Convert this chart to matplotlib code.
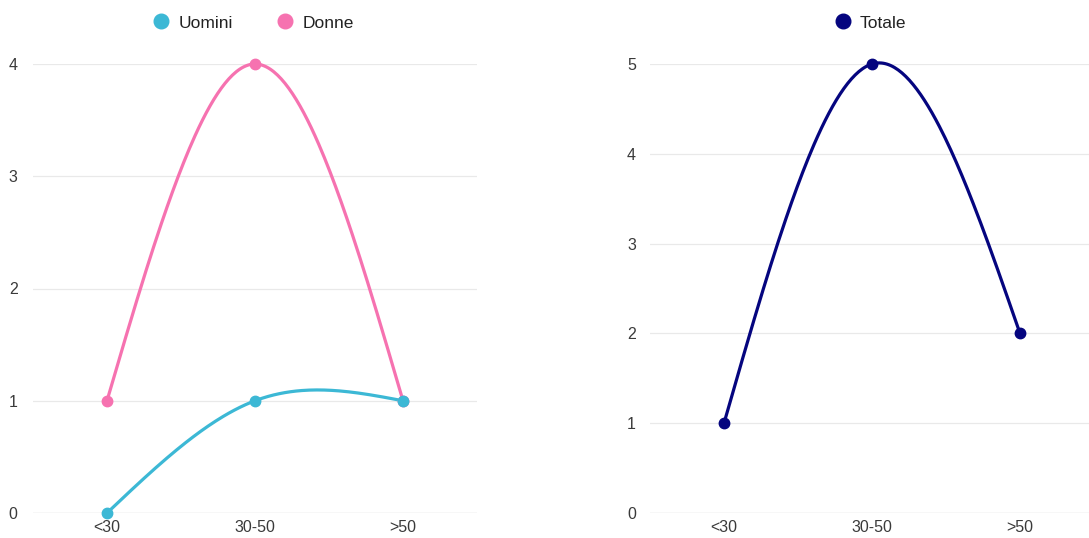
import numpy as np
import matplotlib
matplotlib.use("Agg")
import matplotlib.pyplot as plt
from matplotlib.lines import Line2D

categories = ["<30", "30-50", ">50"]
uomini = [0, 1, 1]
donne = [1, 4, 1]
totale = [1, 5, 2]

c_uomini = "#3cb8d5"
c_donne = "#f672b0"
c_totale = "#05057f"
c_text = "#3a3a3a"

plt.rcParams["font.family"] = ["Liberation Sans", "DejaVu Sans"]

W, H = 1089, 538
fig = plt.figure(figsize=(W / 100, H / 100), dpi=100)


def px_axes(x0, x1, y0, y1):
	# pixel box (top-left origin) to figure fraction
	return fig.add_axes([x0 / W, 1 - y1 / H, (x1 - x0) / W, (y1 - y0) / H])


def natural_spline(vals, n=80):
	# natural cubic spline through points at x = 0..k-1
	y = np.asarray(vals, dtype=float)
	k = len(y)
	A = np.zeros((k, k))
	b = np.zeros(k)
	A[0, 0] = 1
	A[-1, -1] = 1
	for i in range(1, k - 1):
		A[i, i - 1], A[i, i], A[i, i + 1] = 1, 4, 1
		b[i] = 6 * (y[i - 1] - 2 * y[i] + y[i + 1])
	M = np.linalg.solve(A, b)
	xs, ys = [], []
	for i in range(k - 1):
		t = np.linspace(0, 1, n)
		s = (M[i] * (1 - t) ** 3 + M[i + 1] * t ** 3) / 6 \
			+ (y[i] - M[i] / 6) * (1 - t) + (y[i + 1] - M[i + 1] / 6) * t
		xs.append(i + t)
		ys.append(s)
	return np.concatenate(xs), np.concatenate(ys)


def style(ax, ymax, ypad):
	ax.set_xlim(-0.5, 2.5)
	ax.set_ylim(0, ymax)
	ax.set_yticks(range(ymax + 1))
	ax.set_xticks(range(len(categories)))
	ax.set_xticklabels(categories)
	for s in ax.spines.values():
		s.set_visible(False)
	ax.tick_params(length=0, labelsize=11.5, colors=c_text)
	ax.tick_params(axis="y", pad=ypad)
	ax.tick_params(axis="x", pad=5)
	for v in range(1, ymax + 1):
		ax.axhline(v, color="#e9e9e9", lw=0.9, zorder=0)
	ax.axhline(0, color="#c4c4c4", lw=0.9, zorder=0)


ax1 = px_axes(33, 477, 64, 513)
style(ax1, 4, 11)
ax2 = px_axes(650, 1094, 64, 513)
style(ax2, 5, 10)

for ax, vals, col in [(ax1, donne, c_donne), (ax1, uomini, c_uomini), (ax2, totale, c_totale)]:
	cx, cy = natural_spline(vals)
	ax.plot(cx, cy, color=col, lw=2.3, solid_capstyle="round", clip_on=False)
	ax.plot(range(len(vals)), vals, "o", color=col, ms=7.5, clip_on=False, zorder=5)


def handle(col):
	return Line2D([], [], marker="o", color=col, ls="", ms=10.5)


fig.legend([handle(c_uomini), handle(c_donne)], ["Uomini", "Donne"],
	loc="center", bbox_to_anchor=(249 / W, 1 - 23 / H), ncol=2, frameon=False,
	fontsize=12.5, labelcolor="#222222", handletextpad=0.0, columnspacing=2.0)
fig.legend([handle(c_totale)], ["Totale"],
	loc="center", bbox_to_anchor=(866 / W, 1 - 23 / H), frameon=False,
	fontsize=12.5, labelcolor="#222222", handletextpad=0.0)

fig.savefig("out.png", dpi=100)
